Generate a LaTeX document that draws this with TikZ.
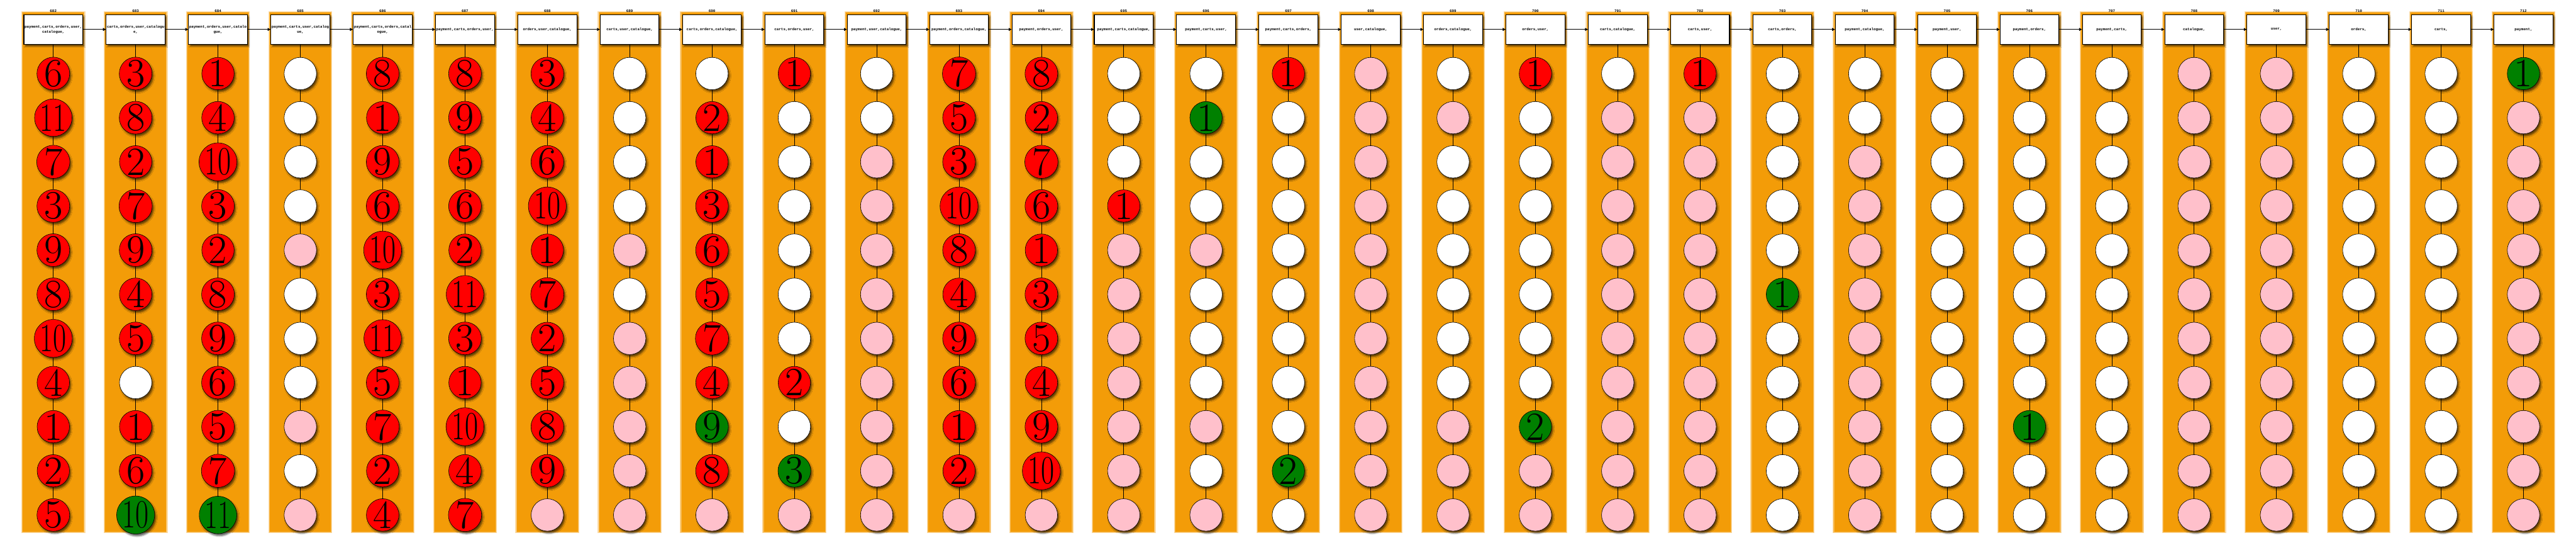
\documentclass[tikz,border=0pt]{standalone}
\usepackage{fontspec}
\usepackage{tikz}
\usetikzlibrary{positioning,arrows.meta,shadows.blur}
\newfontfamily\boxfont{Liberation Mono}
\definecolor{lane}{RGB}{243,156,8}
\definecolor{ballpink}{RGB}{255,192,203}
\definecolor{ballgreen}{RGB}{0,128,0}
\newcommand\ballnum[1]{\setbox0=\hbox{#1}\ifdim\wd0>0.8cm\scalebox{0.72}[1]{#1}\else#1\fi}

\begin{document}
\begin{tikzpicture}[>={Triangle[length=0.08cm,width=0.08cm]},
  drop/.style={blur shadow={shadow xshift=0.04cm,shadow yshift=-0.06cm,shadow blur radius=0.04cm,shadow opacity=60}},
  svc/.style={draw,line width=0.5pt,fill=white,drop,minimum width=1.6cm,minimum height=0.8cm,inner sep=0pt,align=center,font=\fontsize{2.85}{3.7}\selectfont\boxfont\bfseries},
  idlabel/.style={inner sep=0pt,font=\fontsize{2.85}{3.7}\selectfont\boxfont\bfseries},
  ball/.style={circle,draw,line width=0.3pt,drop,minimum size=0.88cm,inner sep=0pt,font=\fontsize{31}{31}\selectfont},
  ball r/.style={fill=red},
  ball g/.style={fill=ballgreen},
  ball w/.style={fill=white},
  ball p/.style={fill=ballpink}]
  \useasboundingbox (0,0) rectangle (70.08,14.8);
  \foreach \lab/\txt/\balls [count=\i from 0] in {
      682/{payment,carts,orders,user,\\catalogue,}/{r/6,r/11,r/7,r/3,r/9,r/8,r/10,r/4,r/1,r/2,r/5},
      683/{carts,orders,user,catalogu\\e,}/{r/3,r/8,r/2,r/7,r/9,r/4,r/5,w/,r/1,r/6,g/10},
      684/{payment,orders,user,catalo\\gue,}/{r/1,r/4,r/10,r/3,r/2,r/8,r/9,r/6,r/5,r/7,g/11},
      685/{payment,carts,user,catalog\\ue,}/{w/,w/,w/,w/,p/,w/,w/,w/,p/,w/,p/},
      686/{payment,carts,orders,catal\\ogue,}/{r/8,r/1,r/9,r/6,r/10,r/3,r/11,r/5,r/7,r/2,r/4},
      687/{payment,carts,orders,user,}/{r/8,r/9,r/5,r/6,r/2,r/11,r/3,r/1,r/10,r/4,r/7},
      688/{orders,user,catalogue,}/{r/3,r/4,r/6,r/10,r/1,r/7,r/2,r/5,r/8,r/9,p/},
      689/{carts,user,catalogue,}/{w/,w/,w/,w/,p/,w/,p/,p/,p/,p/,p/},
      690/{carts,orders,catalogue,}/{w/,r/2,r/1,r/3,r/6,r/5,r/7,r/4,g/9,r/8,p/},
      691/{carts,orders,user,}/{r/1,w/,w/,w/,w/,w/,w/,r/2,w/,g/3,p/},
      692/{payment,user,catalogue,}/{w/,w/,p/,p/,p/,p/,p/,p/,p/,p/,p/},
      693/{payment,orders,catalogue,}/{r/7,r/5,r/3,r/10,r/8,r/4,r/9,r/6,r/1,r/2,p/},
      694/{payment,orders,user,}/{r/8,r/2,r/7,r/6,r/1,r/3,r/5,r/4,r/9,r/10,p/},
      695/{payment,carts,catalogue,}/{w/,w/,w/,r/1,p/,p/,p/,p/,p/,p/,p/},
      696/{payment,carts,user,}/{w/,g/1,w/,w/,p/,w/,w/,w/,p/,w/,p/},
      697/{payment,carts,orders,}/{r/1,w/,w/,w/,w/,w/,w/,w/,w/,g/2,w/},
      698/{user,catalogue,}/{p/,p/,p/,p/,p/,p/,p/,p/,p/,p/,p/},
      699/{orders,catalogue,}/{w/,p/,w/,w/,w/,w/,w/,w/,p/,p/,p/},
      700/{orders,user,}/{r/1,w/,w/,w/,w/,w/,w/,w/,g/2,p/,p/},
      701/{carts,catalogue,}/{w/,p/,p/,p/,p/,p/,p/,p/,p/,p/,p/},
      702/{carts,user,}/{r/1,p/,p/,p/,p/,p/,p/,p/,p/,p/,p/},
      703/{carts,orders,}/{w/,w/,w/,w/,w/,g/1,w/,w/,w/,w/,w/},
      704/{payment,catalogue,}/{w/,w/,p/,p/,p/,p/,p/,p/,p/,p/,p/},
      705/{payment,user,}/{w/,w/,w/,w/,w/,w/,w/,w/,w/,w/,w/},
      706/{payment,orders,}/{w/,w/,w/,w/,w/,w/,w/,w/,g/1,w/,w/},
      707/{payment,carts,}/{w/,w/,w/,w/,w/,w/,w/,w/,w/,w/,w/},
      708/{catalogue,}/{p/,p/,p/,p/,p/,p/,p/,p/,p/,p/,p/},
      709/{user,}/{p/,p/,p/,p/,p/,p/,p/,p/,p/,p/,p/},
      710/{orders,}/{w/,w/,w/,w/,w/,w/,w/,w/,w/,w/,w/},
      711/{carts,}/{w/,w/,w/,w/,w/,w/,w/,w/,w/,w/,w/},
      712/{payment,}/{g/1,p/,p/,p/,p/,p/,p/,p/,p/,p/,p/}}{
    \pgfmathsetmacro\x{1.45+2.24*\i}
    \fill[lane!35] (\x-0.87,0.31) rectangle (\x+0.87,14.49);
    \fill[lane!70] (\x-0.85,0.33) rectangle (\x+0.85,14.47);
    \fill[lane] (\x-0.83,0.35) rectangle (\x+0.83,14.45);
    \node[svc,alias=b\lab-0] (b\lab) at (\x,14.0) {\txt};
    \node[idlabel,above=0.05cm of b\lab] (n\lab) {\lab};
    \foreach \c/\n [count=\k] in \balls {
      \pgfmathtruncatemacro\p{\k-1}
      \node[ball,ball \c] (b\lab-\k) at (\x,{14.0-1.2*\k}) {\ballnum{\n}};
      \draw[line width=0.3pt] (b\lab-\p) -- (b\lab-\k);
    }
  }
  \foreach \a [count=\j from 682] in {683,...,712}
    \draw[->,line width=0.4pt] (b\j) -- (b\a);
\end{tikzpicture}
\end{document}
